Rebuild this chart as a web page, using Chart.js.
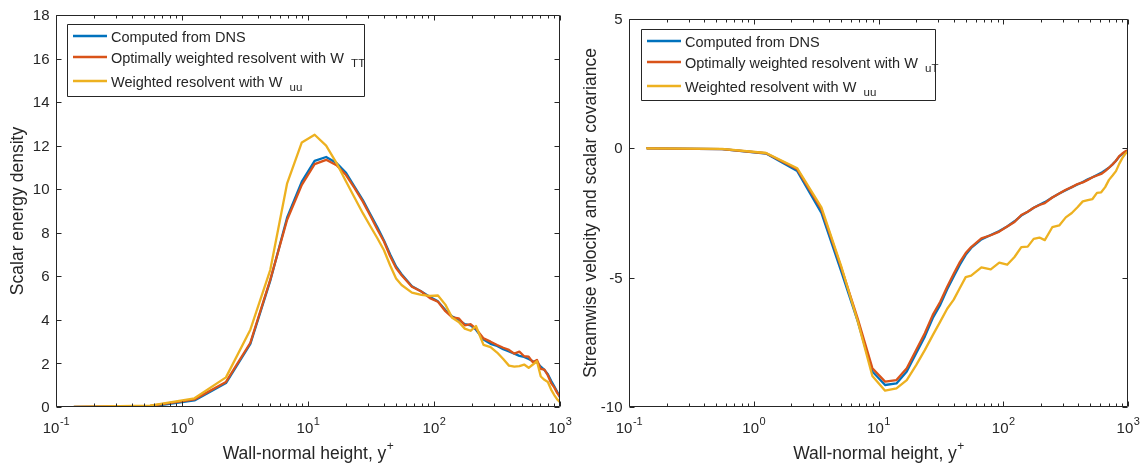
<!DOCTYPE html>
<html>
<head>
<meta charset="utf-8">
<script src="https://cdn.jsdelivr.net/npm/chart.js@4.4.1/dist/chart.umd.min.js"></script>
<style>
  html, body { margin: 0; padding: 0; background: #fff; }
  #wrap { position: relative; width: 1144px; height: 468px; overflow: hidden; }
  canvas { position: absolute; top: 0; }
</style>
</head>
<body>
<div id="wrap">
  <canvas id="leftChart" width="572" height="468" style="left:0"></canvas>
  <canvas id="rightChart" width="572" height="468" style="left:572px"></canvas>
</div>
<script>
// Wall-normal grid (y+) shared by every profile
const yPlus = [0.1396, 0.558, 1.256, 2.233, 3.487, 5.02, 6.83, 8.93, 11.29, 13.93,
  16.85, 20.04, 23.5, 27.24, 31.25, 35.53, 40.08, 44.9, 50.0, 55.3,
  66.8, 79.4, 92.9, 107.5, 123.1, 139.6, 157.1, 175.4, 195.0, 215.3,
  247.2, 281.1, 317.0, 354.4, 393.5, 434.0, 476.0, 519.3, 564.0, 609.6,
  656.3, 703.7, 752.0, 800.9, 850.2, 900.0, 949.9, 1000];

// Scalar energy density
const energyDNS = [0.0, 0.02, 0.3, 1.1, 2.9, 5.8, 8.7, 10.35, 11.3, 11.48,
  11.2, 10.75, 10.1, 9.5, 8.85, 8.25, 7.65, 7.0, 6.45, 6.1,
  5.55, 5.3, 5.05, 4.85, 4.45, 4.15, 4.0, 3.8, 3.75, 3.55,
  3.1, 2.9, 2.8, 2.65, 2.55, 2.45, 2.35, 2.3, 2.2, 2.1,
  2.05, 1.85, 1.7, 1.5, 1.2, 0.95, 0.7, 0.45];
const energyOptimal = [0.0, 0.05, 0.35, 1.15, 2.95, 5.85, 8.6, 10.2, 11.15, 11.35,
  11.1, 10.65, 10.04, 9.43, 8.78, 8.15, 7.6, 6.92, 6.38, 6.05,
  5.52, 5.3, 5.0, 4.83, 4.4, 4.12, 4.07, 3.75, 3.8, 3.6,
  3.15, 3.0, 2.85, 2.72, 2.62, 2.45, 2.54, 2.33, 2.31, 2.05,
  2.16, 1.75, 1.72, 1.45, 1.1, 0.9, 0.65, 0.47];
const energyWuu = [0.0, 0.06, 0.4, 1.36, 3.55, 6.3, 10.27, 12.15, 12.5, 12.0,
  11.2, 10.35, 9.6, 8.9, 8.3, 7.75, 7.2, 6.5, 5.9, 5.6,
  5.25, 5.15, 5.1, 5.12, 4.7, 4.1, 3.9, 3.6, 3.5, 3.72,
  2.85, 2.75, 2.5, 2.2, 1.9, 1.85, 1.88, 1.95, 1.8, 1.95,
  2.1, 1.4, 1.25, 1.15, 0.8, 0.55, 0.35, 0.22];

// Streamwise velocity / scalar covariance
const covDNS = [0, -0.03, -0.2, -0.88, -2.5, -4.75, -6.7, -8.63, -9.15, -9.09,
  -8.63, -7.92, -7.28, -6.56, -6.05, -5.45, -4.95, -4.5, -4.12, -3.85,
  -3.52, -3.35, -3.2, -3.02, -2.82, -2.6, -2.45, -2.3, -2.18, -2.08,
  -1.9, -1.75, -1.62, -1.5, -1.4, -1.3, -1.2, -1.12, -1.03, -0.95,
  -0.85, -0.75, -0.62, -0.48, -0.32, -0.22, -0.14, -0.08];
const covOptimal = [0, -0.03, -0.19, -0.81, -2.36, -4.6, -6.6, -8.5, -9.02, -8.96,
  -8.5, -7.8, -7.15, -6.44, -5.93, -5.35, -4.85, -4.4, -4.05, -3.82,
  -3.48, -3.36, -3.22, -3.02, -2.85, -2.58, -2.45, -2.3, -2.19, -2.12,
  -1.9, -1.75, -1.6, -1.5, -1.38, -1.32, -1.22, -1.12, -1.05, -0.99,
  -0.88, -0.75, -0.62, -0.48, -0.3, -0.2, -0.12, -0.08];
const covWuu = [0, -0.02, -0.18, -0.77, -2.28, -4.55, -6.7, -8.8, -9.37, -9.28,
  -8.96, -8.38, -7.8, -7.22, -6.7, -6.2, -5.85, -5.4, -4.98, -4.92,
  -4.6, -4.68, -4.42, -4.5, -4.2, -3.82, -3.8, -3.5, -3.45, -3.55,
  -3.05, -2.98, -2.67, -2.5, -2.28, -2.05, -2.0, -1.96, -1.72, -1.7,
  -1.5, -1.22, -1.05, -0.88, -0.6, -0.38, -0.22, -0.12];

// Axis ticks
const xDecades = [-1, 0, 1, 2, 3];
const energyTicks = [0, 2, 4, 6, 8, 10, 12, 14, 16, 18];
const covTicks = [-10, -5, 0, 5];

const BLUE = '#0072BD', ORANGE = '#D95319', YELLOW = '#EDB120';
const INK = '#262626';
const FONT = '"Liberation Sans", Arial, Helvetica, sans-serif';
const TITLE_FONT = '17.5px ' + FONT;

function pts(vals) { return yPlus.map((x, i) => ({ x: x, y: vals[i] })); }

function line(label, vals, color, order) {
  return {
    label: label, data: pts(vals), borderColor: color, backgroundColor: color,
    borderWidth: 2.3, pointRadius: 0, tension: 0, fill: false, order: order,
    borderJoinStyle: 'round', borderCapStyle: 'round'
  };
}

// draws text one glyph at a time with a little extra tracking
function spaced(ctx, s, x, y, gap) {
  let cx = x;
  for (const ch of s) {
    ctx.fillText(ch, cx, y);
    cx += ctx.measureText(ch).width + gap;
  }
}

// Draws the boxed axes, inward ticks, labels and legend
function axesPlugin(opt) {
  return {
    id: 'boxedAxes',
    afterDatasetsDraw(chart) {
      const ctx = chart.ctx;
      const a = chart.chartArea;
      const sx = chart.scales.x, sy = chart.scales.y;
      const L = Math.round(a.left) + 0.5, R = Math.round(a.right) - 0.5;
      const T = Math.round(a.top) + 0.5, B = Math.round(a.bottom) - 0.5;
      ctx.save();
      ctx.strokeStyle = INK;
      ctx.lineWidth = 1;
      ctx.beginPath();
      ctx.rect(L, T, R - L, B - T);
      ctx.stroke();

      // x ticks (log decades with minor ticks), bottom and top
      ctx.beginPath();
      xDecades.forEach(d => {
        const base = Math.pow(10, d);
        const xp = Math.round(sx.getPixelForValue(base)) + 0.5;
        ctx.moveTo(xp, B); ctx.lineTo(xp, B - 5);
        ctx.moveTo(xp, T); ctx.lineTo(xp, T + 5);
        if (d < 3) {
          for (let m = 2; m <= 9; m++) {
            const mp = Math.round(sx.getPixelForValue(m * base)) + 0.5;
            ctx.moveTo(mp, B); ctx.lineTo(mp, B - 3);
            ctx.moveTo(mp, T); ctx.lineTo(mp, T + 3);
          }
        }
      });
      // y ticks, left and right
      opt.yTicks.forEach(v => {
        const yp = Math.round(sy.getPixelForValue(v)) + 0.5;
        ctx.moveTo(L, yp); ctx.lineTo(L + 5, yp);
        ctx.moveTo(R, yp); ctx.lineTo(R - 5, yp);
      });
      ctx.stroke();

      ctx.fillStyle = INK;
      // y tick labels
      ctx.font = '15px ' + FONT;
      ctx.textAlign = 'right';
      ctx.textBaseline = 'middle';
      opt.yTicks.forEach(v => {
        ctx.fillText(String(v), L - 7, sy.getPixelForValue(v) + 1);
      });

      // x tick labels 10^n
      ctx.textBaseline = 'alphabetic';
      ctx.textAlign = 'left';
      xDecades.forEach(d => {
        const xp = sx.getPixelForValue(Math.pow(10, d));
        ctx.font = '15px ' + FONT;
        const wb = ctx.measureText('10').width;
        ctx.font = '11px ' + FONT;
        const exp = String(d);
        const we = ctx.measureText(exp).width;
        const x0 = xp - (wb + we) / 2;
        ctx.font = '15px ' + FONT;
        ctx.fillText('10', x0, 433);
        ctx.font = '11px ' + FONT;
        ctx.fillText(exp, x0 + wb + 0.5, 425);
      });

      // x axis title with superscript
      ctx.font = TITLE_FONT;
      const main = 'Wall-normal height, y';
      const wm = ctx.measureText(main).width;
      ctx.font = '12px ' + FONT;
      const wp = ctx.measureText('+').width;
      const cx = (a.left + a.right) / 2;
      const tx = cx - (wm + wp) / 2;
      ctx.font = TITLE_FONT;
      ctx.fillText(main, tx, 459);
      ctx.font = '12px ' + FONT;
      ctx.fillText('+', tx + wm + 0.5, 450);

      // y axis title
      ctx.save();
      ctx.translate(a.left - 38, (a.top + a.bottom) / 2);
      ctx.rotate(-Math.PI / 2);
      ctx.font = TITLE_FONT;
      ctx.textAlign = 'center';
      ctx.textBaseline = 'middle';
      ctx.fillText(opt.yTitle, 0, 0);
      ctx.restore();

      // legend
      const lg = opt.legend;
      ctx.fillStyle = '#fff';
      ctx.fillRect(lg.x, lg.y, lg.w, lg.h);
      ctx.beginPath();
      ctx.rect(lg.x + 0.5, lg.y + 0.5, lg.w, lg.h);
      ctx.strokeStyle = INK;
      ctx.lineWidth = 1;
      ctx.stroke();
      const entries = chart.data.datasets;
      lg.rows.forEach((ry, i) => {
        const ds = entries[i];
        const yy = lg.y + ry;
        ctx.beginPath();
        ctx.strokeStyle = ds.borderColor;
        ctx.lineWidth = 2.3;
        ctx.moveTo(lg.x + 6, yy); ctx.lineTo(lg.x + 40, yy);
        ctx.stroke();
        ctx.fillStyle = INK;
        ctx.textAlign = 'left';
        ctx.textBaseline = 'alphabetic';
        ctx.font = '14.5px ' + FONT;
        const txt = lg.texts[i];
        ctx.fillText(txt, lg.x + 44, yy + 5.5);
        if (lg.subs[i]) {
          const w = ctx.measureText(txt).width;
          ctx.font = '11.5px ' + FONT;
          spaced(ctx, lg.subs[i], lg.x + 44 + w + 7, yy + 9.5, 0.3);
        }
      });
      ctx.restore();
    }
  };
}

function makeChart(id, sets, yMin, yMax, pad, plugOpt) {
  return new Chart(document.getElementById(id), {
    type: 'line',
    data: { datasets: sets },
    options: {
      responsive: false,
      animation: false,
      devicePixelRatio: 1,
      layout: { padding: pad },
      plugins: { legend: { display: false }, tooltip: { enabled: false } },
      scales: {
        x: { type: 'logarithmic', min: 0.1, max: 1000, display: false },
        y: { type: 'linear', min: yMin, max: yMax, display: false }
      }
    },
    plugins: [axesPlugin(plugOpt)]
  });
}

makeChart('leftChart', [
  line('Computed from DNS', energyDNS, BLUE, 3),
  line('Optimally weighted resolvent with W_TT', energyOptimal, ORANGE, 2),
  line('Weighted resolvent with W_uu', energyWuu, YELLOW, 1)
], 0, 18, { left: 56, right: 12, top: 15, bottom: 61 }, {
  yTicks: energyTicks,
  yTitle: 'Scalar energy density',
  legend: {
    x: 67, y: 24, w: 297, h: 72, rows: [12, 33, 57],
    texts: ['Computed from DNS', 'Optimally weighted resolvent with W', 'Weighted resolvent with W'],
    subs: ['', 'TT', 'uu']
  }
});

makeChart('rightChart', [
  line('Computed from DNS', covDNS, BLUE, 3),
  line('Optimally weighted resolvent with W_uT', covOptimal, ORANGE, 2),
  line('Weighted resolvent with W_uu', covWuu, YELLOW, 1)
], -10, 5, { left: 57, right: 16, top: 19, bottom: 61 }, {
  yTicks: covTicks,
  yTitle: 'Streamwise velocity and scalar covariance',
  legend: {
    x: 69, y: 29, w: 294, h: 71, rows: [12, 33, 57],
    texts: ['Computed from DNS', 'Optimally weighted resolvent with W', 'Weighted resolvent with W'],
    subs: ['', 'uT', 'uu']
  }
});
</script>
</body>
</html>
